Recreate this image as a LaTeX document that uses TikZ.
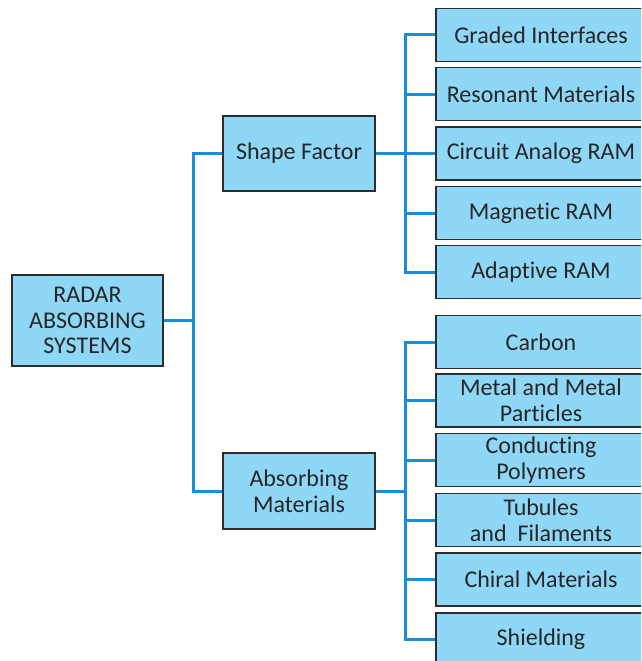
\documentclass[tikz,border=0pt]{standalone}
\usepackage{fontspec}
\setmainfont{Carlito}[Ligatures=NoCommon]
\definecolor{boxfill}{RGB}{142,215,246}
\definecolor{connblue}{RGB}{24,142,214}
\definecolor{boxline}{RGB}{45,45,45}
\begin{document}
\begin{tikzpicture}[x=1pt,y=-1pt,
  box/.style={draw=boxline,line width=1.1pt,fill=boxfill,align=center,inner sep=0pt,
    font=\fontsize{24}{25.7}\selectfont,text=black!85},
  rbox/.style={box,minimum width=210pt,minimum height=53pt},
  mbox/.style={box,minimum width=152pt,minimum height=75pt},
  conn/.style={draw=connblue,line width=3pt}]
\useasboundingbox (0,0) rectangle (641,661);
\clip (0,0) rectangle (641,661);
\node[box,minimum width=151pt,minimum height=91pt] (root) at (87.5,320.5) {RADAR\\ABSORBING\\SYSTEMS};
\node[mbox] (shape) at (299,153.5) {Shape Factor};
\node[mbox,minimum height=76pt] (absorb) at (299,491) {Absorbing\\Materials};
\node[rbox] (g1) at (541,35) {Graded Interfaces};
\node[rbox] (g2) at (541,94) {Resonant Materials};
\node[rbox] (g3) at (541,153.5) {Circuit Analog RAM};
\node[rbox] (g4) at (541,213) {Magnetic RAM};
\node[rbox] (g5) at (541,272) {Adaptive RAM};
\node[rbox] (m1) at (541,342) {Carbon};
\node[rbox] (m2) at (541,400.5) {Metal and Metal\\Particles};
\node[rbox] (m3) at (541,460) {Conducting\\Polymers};
\node[rbox] (m4) at (541,520) {Tubules\\and~ Filaments};
\node[rbox] (m5) at (541,579.5) {Chiral Materials};
\node[rbox] (m6) at (541,639.5) {Shielding};
\coordinate (j1) at (193,0);
\coordinate (j2) at (405,0);
\draw[conn] (root.east) -- (root.east -| j1);
\draw[conn] (shape.west) -- (shape.west -| j1) -- (absorb.west -| j1) -- (absorb.west);
\draw[conn] (shape.east) -- (shape.east -| j2);
\draw[conn] (g1.west) -- (g1.west -| j2) -- (g5.west -| j2) -- (g5.west);
\foreach \n in {g2,g3,g4}{\draw[conn] (\n.west) -- (\n.west -| j2);}
\draw[conn] (absorb.east) -- (absorb.east -| j2);
\draw[conn] (m1.west) -- (m1.west -| j2) -- (m6.west -| j2) -- (m6.west);
\foreach \n in {m2,m3,m4,m5}{\draw[conn] (\n.west) -- (\n.west -| j2);}
\end{tikzpicture}
\end{document}
